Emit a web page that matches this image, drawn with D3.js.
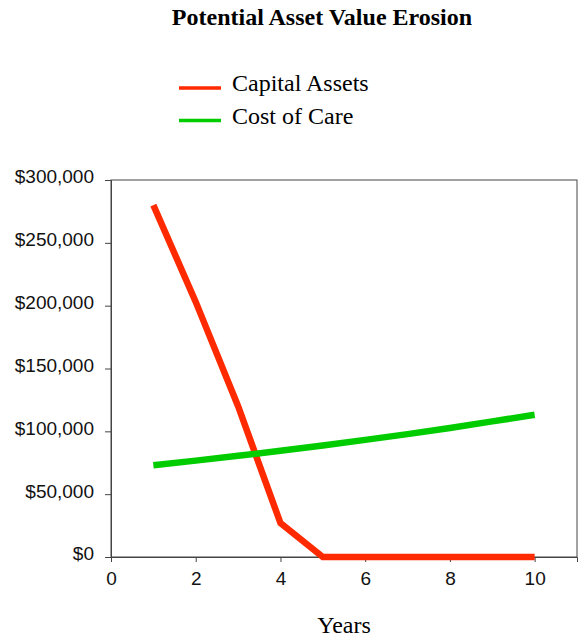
<!DOCTYPE html>
<html>
<head>
<meta charset="utf-8">
<script src="https://cdn.jsdelivr.net/npm/d3@7/dist/d3.min.js"></script>
<style>
  html, body { margin: 0; padding: 0; background: #fff; }
  svg { display: block; }
</style>
</head>
<body>
<svg id="chart" width="581" height="637"></svg>
<script>
// Projected values by year
const years = [1, 2, 3, 4, 5, 6, 7, 8, 9, 10];
const capitalAssets = [280000, 203000, 120000, 27000, 0, 0, 0, 0, 0, 0];
const costOfCare = [73000, 76700, 80500, 84500, 88700, 93200, 97800, 102700, 107900, 113200];
const seriesNames = ["Capital Assets", "Cost of Care"];
const seriesColors = ["#ff2a00", "#00cc00"];
const xTicks = [0, 2, 4, 6, 8, 10];
const yTicks = [0, 50000, 100000, 150000, 200000, 250000, 300000];

const svg = d3.select("#chart");
const plotLeft = 111, plotRight = 577, plotTop = 180, plotBottom = 557;
const serif = "'Liberation Serif', 'Times New Roman', serif";
const sans = "'Liberation Sans', Arial, Helvetica, sans-serif";

const x = d3.scaleLinear().domain([0, 11]).range([plotLeft, plotRight]);
const y = d3.scaleLinear().domain([0, 300000]).range([plotBottom, plotTop]);

// Title
svg.append("text")
  .attr("x", 322).attr("y", 25)
  .attr("text-anchor", "middle")
  .attr("font-family", serif)
  .attr("font-weight", "bold")
  .attr("font-size", 24)
  .text("Potential Asset Value Erosion");

// Legend
const legend = svg.append("g");
seriesNames.forEach((name, i) => {
  const ly = 88 + i * 32.5;
  legend.append("line")
    .attr("x1", 179).attr("x2", 221)
    .attr("y1", ly).attr("y2", ly)
    .attr("stroke", seriesColors[i]).attr("stroke-width", 3.5);
  legend.append("text")
    .attr("x", 232).attr("y", ly + 3)
    .attr("font-family", serif)
    .attr("font-size", 24)
    .text(name);
});

// Plot frame
svg.append("rect")
  .attr("x", plotLeft).attr("y", plotTop)
  .attr("width", plotRight - plotLeft).attr("height", plotBottom - plotTop)
  .attr("fill", "none").attr("stroke", "#444").attr("stroke-width", 1);

// Axes
const fmt = d3.format("$,");
const yAxis = svg.append("g")
  .attr("transform", `translate(${plotLeft},0)`)
  .call(d3.axisLeft(y).tickValues(yTicks).tickFormat(fmt).tickSize(6).tickPadding(11));
const xAxis = svg.append("g")
  .attr("transform", `translate(0,${plotBottom})`)
  .call(d3.axisBottom(x).tickValues(xTicks).tickFormat(d3.format("d")).tickSize(5).tickPadding(10));

[yAxis, xAxis].forEach(a => {
  a.select(".domain").attr("stroke", "#444");
  a.selectAll(".tick line").attr("stroke", "#444");
  a.selectAll("text")
    .attr("font-family", sans)
    .attr("font-size", 19)
    .attr("fill", "#111");
});
yAxis.selectAll("text").attr("dy", "0.15em");

// X axis title
svg.append("text")
  .attr("x", 344).attr("y", 633)
  .attr("text-anchor", "middle")
  .attr("font-family", serif)
  .attr("font-size", 24)
  .text("Years");

// Series lines
const line = d3.line().x(d => x(d[0])).y(d => y(d[1]));
[capitalAssets, costOfCare].forEach((vals, i) => {
  svg.append("path")
    .datum(years.map((yr, j) => [yr, vals[j]]))
    .attr("d", line)
    .attr("fill", "none")
    .attr("stroke", seriesColors[i])
    .attr("stroke-width", 6.5)
    .attr("stroke-linejoin", "miter");
});
</script>
</body>
</html>
